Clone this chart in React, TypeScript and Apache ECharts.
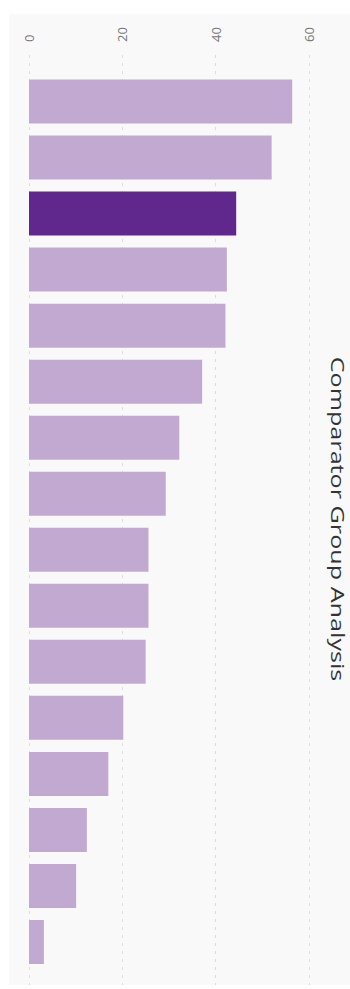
import React, { useEffect, useRef } from "react";
import * as echarts from "echarts";

const categories = [
  "Peer 1", "Peer 2", "Our Institution", "Peer 3", "Peer 4", "Peer 5", "Peer 6", "Peer 7",
  "Peer 8", "Peer 9", "Peer 10", "Peer 11", "Peer 12", "Peer 13", "Peer 14", "Peer 15",
];
const values = [56.4, 52.0, 44.4, 42.4, 42.1, 37.1, 32.2, 29.3, 25.6, 25.6, 25.0, 20.2, 17.0, 12.4, 10.1, 3.2];
const highlightIndex = 2;
const titleText = "Comparator Group Analysis";
const axisMin = 0;
const axisMax = 60;
const axisInterval = 20;

const LIGHT = "#c1a9d1";
const DARK = "#60288c";

export default function App() {
  const ref = useRef<HTMLDivElement>(null);
  useEffect(() => {
    if (!ref.current) return;
    const chart = echarts.init(ref.current, undefined, { renderer: "svg" });
    chart.setOption({
      animation: false,
      textStyle: { fontFamily: "'Open Sans', sans-serif" },
      graphic: [
        {
          type: "rect",
          z: -10,
          shape: { x: 9, y: 14, width: 341, height: 971 },
          style: { fill: "#f9f9f9" },
          silent: true,
        },
        {
          type: "text",
          x: 338,
          y: 519,
          rotation: -Math.PI / 2,
          scaleX: 1.4,
          style: {
            text: titleText,
            fontSize: 18,
            fontFamily: "'Open Sans', sans-serif",
            fill: "#333",
            align: "center",
            verticalAlign: "middle",
          },
        },
      ],
      grid: [
        { left: 29, right: 41, top: 55, bottom: 4 },
        { left: 29, right: 41, top: 73.5, bottom: 19 },
      ],
      xAxis: [
        {
          gridIndex: 0,
          type: "value",
          position: "top",
          min: axisMin,
          max: axisMax,
          interval: axisInterval,
          axisLine: { show: false },
          axisTick: { show: false },
          axisLabel: { rotate: -90, color: "#777", fontSize: 13, margin: 13 },
          splitLine: { show: true, lineStyle: { color: "#dcdcdc", type: [3, 5], width: 1 } },
        },
        {
          gridIndex: 1,
          type: "value",
          min: axisMin,
          max: axisMax,
          show: false,
        },
      ],
      yAxis: [
        { gridIndex: 0, type: "category", data: categories, show: false },
        { gridIndex: 1, type: "category", data: categories, inverse: true, show: false },
      ],
      series: [
        {
          type: "bar",
          xAxisIndex: 1,
          yAxisIndex: 1,
          barWidth: 44,
          data: values.map((v, i) => ({
            value: v,
            itemStyle: { color: i === highlightIndex ? DARK : LIGHT },
          })),
        },
      ],
    });
    return () => chart.dispose();
  }, []);
  return (
    <div
      ref={ref}
      style={{ position: "fixed", left: 0, top: 0, width: 350, height: 989, background: "#fff" }}
    />
  );
}
